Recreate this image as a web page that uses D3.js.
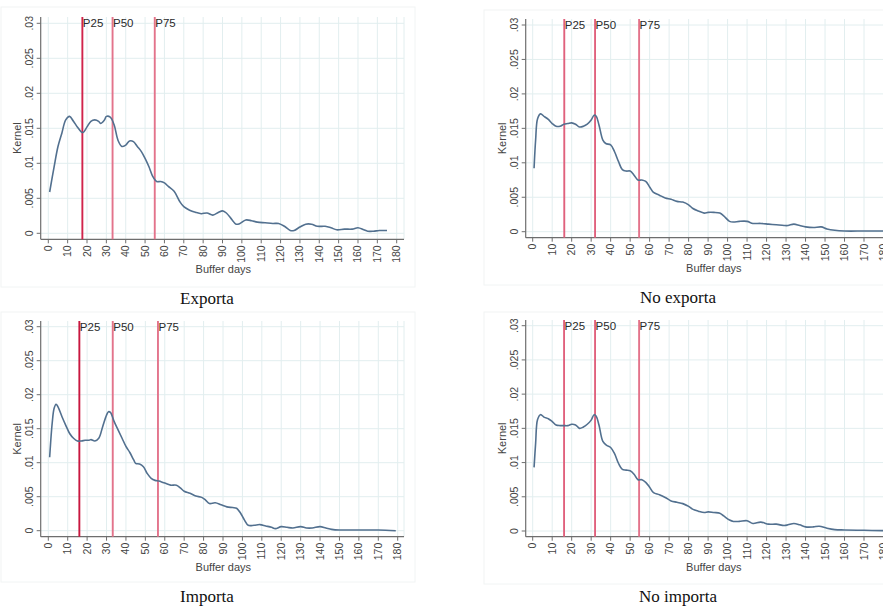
<!DOCTYPE html>
<html>
<head>
<meta charset="utf-8">
<script src="https://cdn.jsdelivr.net/npm/d3@7"></script>
<style>
  body { margin: 0; background: #fff; }
  svg { display: block; }
  .tick-label { font-family: "Liberation Sans", Arial, sans-serif; font-size: 10.5px; fill: #444; }
  .axis-title { font-family: "Liberation Sans", Arial, sans-serif; font-size: 11px; fill: #444; }
  .pct-label { font-family: "Liberation Sans", Arial, sans-serif; font-size: 11.5px; fill: #2a2a2a; }
  .caption { font-family: "Liberation Serif", "DejaVu Serif", serif; font-size: 17px; fill: #111; }
</style>
</head>
<body>
<script>
// tick values / labels
const xTicks = [0, 10, 20, 30, 40, 50, 60, 70, 80, 90, 100, 110, 120, 130, 140, 150, 160, 170, 180];
const yTicks = [0, 0.005, 0.01, 0.015, 0.02, 0.025, 0.03];
const yTickLabels = ["0", ".005", ".01", ".015", ".02", ".025", ".03"];
const pctNames = ["P25", "P50", "P75"];

// Exporta
const exportaDays = [0.7, 3, 5, 7, 9, 11, 13, 15, 17, 18, 20, 22, 24, 26, 27, 29, 30, 32, 34, 36, 38, 40, 42, 44, 46, 48, 50, 52, 54, 56, 58, 60, 62, 65, 68, 70, 73, 76, 79, 82, 85, 88, 90, 92, 95, 97, 99, 102, 105, 108, 112, 116, 119, 122, 125, 127, 130, 133, 136, 139, 143, 146, 149, 153, 157, 160, 163, 165, 168, 171, 175];
const exportaKernel = [0.0059, 0.0095, 0.0124, 0.0143, 0.0162, 0.0167, 0.0160, 0.0152, 0.0145, 0.0144, 0.0152, 0.0160, 0.0162, 0.0160, 0.0157, 0.0162, 0.0167, 0.0166, 0.0155, 0.0133, 0.0124, 0.0126, 0.0132, 0.0131, 0.0124, 0.0117, 0.0107, 0.0095, 0.0081, 0.0074, 0.0074, 0.0072, 0.0067, 0.0060, 0.0045, 0.0038, 0.0033, 0.0030, 0.0028, 0.0029, 0.0026, 0.0030, 0.0032, 0.0029, 0.0019, 0.0013, 0.0014, 0.0019, 0.0018, 0.0016, 0.0015, 0.0014, 0.0014, 0.0010, 0.0004, 0.0004, 0.0009, 0.0013, 0.0013, 0.0010, 0.0010, 0.0008, 0.0005, 0.0006, 0.0006, 0.0008, 0.0005, 0.0003, 0.0003, 0.0004, 0.0004];
const exportaPct = [17.6, 33.2, 55];

// No exporta
const noExportaDays = [0.7, 1.5, 2.5, 4, 6, 8, 10, 12, 14, 16, 18, 20, 22, 24, 26, 28, 30, 31.5, 32.5, 34, 36, 37.5, 40, 42, 44, 46, 48, 50, 52, 54, 56, 58, 60, 62, 65, 68, 71, 74, 77, 80, 82, 85, 88, 90, 93, 96, 98, 101, 103, 106, 110, 113, 117, 121, 125, 129, 131, 134, 137, 140, 144, 148, 151, 155, 160, 170, 180];
const noExportaKernel = [0.0092, 0.0133, 0.0164, 0.0171, 0.0167, 0.0163, 0.0157, 0.0153, 0.0153, 0.0156, 0.0157, 0.0158, 0.0156, 0.0152, 0.0153, 0.0156, 0.0162, 0.0169, 0.0168, 0.0155, 0.0133, 0.0128, 0.0126, 0.0116, 0.0102, 0.0090, 0.0088, 0.0088, 0.0082, 0.0075, 0.0075, 0.0073, 0.0065, 0.0057, 0.0053, 0.0049, 0.0047, 0.0044, 0.0043, 0.0039, 0.0034, 0.0030, 0.0027, 0.0028, 0.0028, 0.0027, 0.0023, 0.0015, 0.0014, 0.0015, 0.0015, 0.0012, 0.0012, 0.0011, 0.0010, 0.0009, 0.0009, 0.0011, 0.0009, 0.0007, 0.0006, 0.0007, 0.0004, 0.0002, 0.0001, 0.0001, 0.0001];
const noExportaPct = [16.2, 32, 54.6];

// Importa
const importaDays = [0.7, 2, 3, 4, 5, 7, 9, 11, 13, 15, 17, 19, 21, 22, 24, 26, 28, 30, 31, 32, 34, 36, 38, 40, 42, 44, 45, 47, 49, 51, 53, 55, 57, 59, 61, 63, 66, 68, 70, 73, 76, 79, 81, 83, 86, 89, 92, 95, 97, 99, 101, 103, 106, 109, 112, 115, 117, 120, 123, 126, 130, 133, 136, 140, 143, 146, 150, 155, 160, 170, 179];
const importaKernel = [0.0108, 0.0158, 0.0180, 0.0186, 0.0182, 0.0168, 0.0155, 0.0143, 0.0136, 0.0132, 0.0132, 0.0133, 0.0133, 0.0134, 0.0132, 0.0136, 0.0153, 0.0170, 0.0175, 0.0174, 0.0160, 0.0148, 0.0136, 0.0124, 0.0115, 0.0104, 0.0099, 0.0098, 0.0094, 0.0084, 0.0077, 0.0074, 0.0073, 0.0071, 0.0069, 0.0067, 0.0067, 0.0063, 0.0058, 0.0055, 0.0051, 0.0049, 0.0045, 0.0040, 0.0041, 0.0038, 0.0035, 0.0034, 0.0033, 0.0026, 0.0016, 0.0008, 0.0008, 0.0009, 0.0007, 0.0005, 0.0003, 0.0006, 0.0005, 0.0004, 0.0006, 0.0004, 0.0004, 0.0006, 0.0004, 0.0002, 0.0001, 0.0001, 0.0001, 0.0001, 0.0000];
const importaPct = [16, 33.2, 56.5];

// No importa
const noImportaDays = [0.7, 1.5, 2.5, 4, 6, 8, 10, 12, 14, 16, 18, 20, 22, 24, 26, 28, 30, 31.5, 32.5, 34, 36, 38, 40, 42, 44, 46, 48, 50, 52, 54, 56, 58, 60, 62, 65, 68, 71, 74, 77, 80, 82, 85, 88, 90, 93, 96, 98, 101, 103, 106, 110, 113, 117, 121, 125, 129, 131, 134, 137, 140, 144, 147, 151, 155, 160, 170, 180];
const noImportaKernel = [0.0093, 0.0128, 0.0163, 0.0170, 0.0166, 0.0164, 0.0160, 0.0155, 0.0154, 0.0154, 0.0154, 0.0156, 0.0155, 0.0150, 0.0152, 0.0156, 0.0162, 0.0170, 0.0168, 0.0155, 0.0131, 0.0125, 0.0122, 0.0113, 0.0099, 0.0090, 0.0089, 0.0088, 0.0083, 0.0075, 0.0075, 0.0071, 0.0064, 0.0056, 0.0053, 0.0049, 0.0044, 0.0042, 0.0040, 0.0036, 0.0032, 0.0029, 0.0027, 0.0028, 0.0027, 0.0026, 0.0022, 0.0016, 0.0014, 0.0014, 0.0015, 0.0011, 0.0013, 0.0010, 0.0010, 0.0008, 0.0009, 0.0011, 0.0009, 0.0006, 0.0006, 0.0007, 0.0004, 0.0002, 0.00015, 0.0001, 0.00005];
const noImportaPct = [16.1, 32, 54.6];

const captions = ["Exporta", "No exporta", "Importa", "No importa"];

const W = 883, H = 606;
const svg = d3.select("body").append("svg").attr("width", W).attr("height", H);

// panel layout (pixels); right-hand panels run past the page edge as in the source
const panels = [
  { days: exportaDays, kern: exportaKernel, pct: exportaPct, cap: captions[0],
    box: [1, 7, 415, 287], x0: 48.3, x180: 396.7, y0: 233.3, y03: 23.3, axX: 40.7, axY: 239.3, top: 17, right: 404,
    capX: 207, capY: 304, pctCol: ["#d0234b", "#e3738b", "#e3738b"] },
  { days: noExportaDays, kern: noExportaKernel, pct: noExportaPct, cap: captions[1],
    box: [484, 10, 900, 285], x0: 532.7, x180: 883.5, y0: 231.7, y03: 25, axX: 525.7, axY: 237.7, top: 19, right: 900,
    capX: 678, capY: 303, pctCol: ["#e0617d", "#e0617d", "#e3738b"] },
  { days: importaDays, kern: importaKernel, pct: importaPct, cap: captions[2],
    box: [1, 312, 415, 582], x0: 48.3, x180: 397.7, y0: 530.7, y03: 326.7, axX: 40.7, axY: 536.7, top: 321, right: 404,
    capX: 207, capY: 602, pctCol: ["#c8173f", "#e3738b", "#e3738b"] },
  { days: noImportaDays, kern: noImportaKernel, pct: noImportaPct, cap: captions[3],
    box: [484, 312, 900, 584], x0: 532.7, x180: 883.5, y0: 531, y03: 325.7, axX: 525.7, axY: 536.7, top: 320, right: 900,
    capX: 678, capY: 602, pctCol: ["#e0617d", "#e0617d", "#e3738b"] }
];

panels.forEach(p => {
  const g = svg.append("g");
  const x = d3.scaleLinear().domain([0, 180]).range([p.x0, p.x180]);
  const y = d3.scaleLinear().domain([0, 0.03]).range([p.y0, p.y03]);

  // graph region outline
  g.append("rect")
    .attr("x", p.box[0]).attr("y", p.box[1])
    .attr("width", p.box[2] - p.box[0]).attr("height", p.box[3] - p.box[1])
    .attr("fill", "none").attr("stroke", "#f1f4f4").attr("stroke-width", 1);

  // grid
  g.selectAll(".vg").data(xTicks).enter().append("line")
    .attr("x1", d => x(d)).attr("x2", d => x(d))
    .attr("y1", p.top).attr("y2", p.axY)
    .attr("stroke", "#e2eeef").attr("stroke-width", 1);
  g.selectAll(".hg").data(yTicks).enter().append("line")
    .attr("x1", p.axX).attr("x2", p.right)
    .attr("y1", d => y(d)).attr("y2", d => y(d))
    .attr("stroke", "#e2eeef").attr("stroke-width", 1);
  g.append("line").attr("x1", p.right).attr("x2", p.right).attr("y1", p.top).attr("y2", p.axY)
    .attr("stroke", "#e2eeef");

  // axes
  g.append("line").attr("x1", p.axX).attr("x2", p.axX).attr("y1", p.top).attr("y2", p.axY)
    .attr("stroke", "#6e6e6e").attr("stroke-width", 1.2);
  g.append("line").attr("x1", p.axX).attr("x2", p.right).attr("y1", p.axY).attr("y2", p.axY)
    .attr("stroke", "#6e6e6e").attr("stroke-width", 1.2);

  // y ticks + labels
  g.selectAll(".yt").data(yTicks).enter().append("line")
    .attr("x1", p.axX - 4).attr("x2", p.axX)
    .attr("y1", d => y(d)).attr("y2", d => y(d))
    .attr("stroke", "#6e6e6e");
  g.selectAll(".yl").data(yTicks).enter().append("text")
    .attr("class", "tick-label")
    .attr("transform", d => `translate(${p.axX - 8},${y(d)}) rotate(-90)`)
    .attr("text-anchor", "middle")
    .text((d, i) => yTickLabels[i]);

  // x ticks + labels
  g.selectAll(".xt").data(xTicks).enter().append("line")
    .attr("x1", d => x(d)).attr("x2", d => x(d))
    .attr("y1", p.axY).attr("y2", p.axY + 4)
    .attr("stroke", "#6e6e6e");
  g.selectAll(".xl").data(xTicks).enter().append("text")
    .attr("class", "tick-label")
    .attr("transform", d => `translate(${x(d) + 3.5},${p.axY + 6}) rotate(-90)`)
    .attr("text-anchor", "end")
    .text(d => d);

  // axis titles
  g.append("text").attr("class", "axis-title")
    .attr("transform", `translate(${p.axX - 20},${(p.top + p.axY) / 2 + 10}) rotate(-90)`)
    .attr("text-anchor", "middle").text("Kernel");
  g.append("text").attr("class", "axis-title")
    .attr("x", (p.axX + Math.min(p.right, 883 + 10 * (p.x180 - p.x0) / 180) + 8) / 2 - 3)
    .attr("y", p.axY + 34)
    .attr("text-anchor", "middle").text("Buffer days");

  // percentile lines
  p.pct.forEach((v, i) => {
    g.append("line")
      .attr("x1", x(v)).attr("x2", x(v))
      .attr("y1", p.top).attr("y2", p.axY)
      .attr("stroke", p.pctCol[i]).attr("stroke-width", 1.9);
    g.append("text").attr("class", "pct-label")
      .attr("x", x(v) + 0.5).attr("y", y(0.03) + 4)
      .text(pctNames[i]);
  });

  // kernel curve
  const pts = p.days.map((d, i) => [d, p.kern[i]]);
  g.append("path").datum(pts)
    .attr("fill", "none").attr("stroke", "#52708f").attr("stroke-width", 1.6)
    .attr("d", d3.line().x(d => x(d[0])).y(d => y(d[1])).curve(d3.curveCatmullRom.alpha(0.5)));

  // caption
  g.append("text").attr("class", "caption")
    .attr("x", p.capX).attr("y", p.capY)
    .attr("text-anchor", "middle").text(p.cap);
});
</script>
</body>
</html>
